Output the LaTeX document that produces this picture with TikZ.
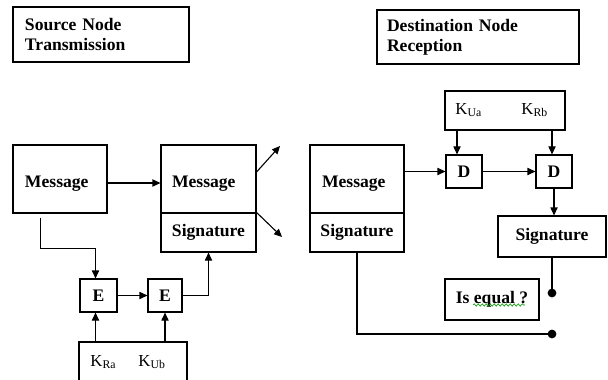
\documentclass[tikz,border=0pt]{standalone}
\usepackage{fontspec}
\setmainfont{Liberation Serif}
\usetikzlibrary{arrows.meta,calc,decorations.pathmorphing}
\begin{document}
\begin{tikzpicture}[x=0.5pt,y=-0.5pt,
  every node/.style={font=\fontsize{8.8}{10}\selectfont\bfseries, inner sep=0pt},
  box/.style={draw, line width=0.55pt, rectangle},
  leftbox/.style={box, align=left, inner xsep=#1},
  msgbox/.style={leftbox=#1, minimum height=34pt, text height=8.4pt, text depth=0pt},
  keytext/.style={font=\fontsize{8.4}{10}\selectfont, anchor=west},
  conn/.style={line width=0.55pt},
  arr/.style={conn, -{Triangle[length=4pt,width=3.6pt]}},
  dotend/.style={circle, fill, minimum size=4.4pt}
]
\useasboundingbox (0,0) rectangle (608,379);

% ---- headings
\node[leftbox=6pt, minimum width=88pt, minimum height=27.5pt, text width=76pt] (hsrc) at (101,34.5)
  {Source Node\\Transmission};
\node[leftbox=5pt, minimum width=101pt, minimum height=27pt, text width=91pt] (hdst) at (478,37)
  {Destination Node\\Reception};

% ---- source side
\node[msgbox=6pt, minimum width=47pt, text width=35pt] (msgL) at (60,179) {Message};
\node[msgbox=5.5pt, minimum width=47.5pt, text width=36.5pt] (msgM) at (208.5,179) {Message};
\node[box, minimum width=47.5pt, minimum height=19.5pt] (sigM) at (208.5,232.5) {Signature};
\node[box, minimum width=18.5pt, minimum height=16.5pt] (e1) at (98.5,295.5) {E};
\node[box, minimum width=17pt, minimum height=16.5pt] (e2) at (165,295.5) {E};
\node[box, minimum width=54pt, minimum height=24pt] (kL) at (133,366) {};
\node[keytext] (kRa) at (90,362) {K\textsubscript{Ra}};
\node[keytext] (kUb) at (138,362) {K\textsubscript{Ub}};

\coordinate (outUp) at (280,146);
\coordinate (outDn) at (282,237);

\draw[arr] ([yshift=-2pt]msgL.east) -- ([yshift=-2pt]msgM.west);
\draw[arr] ([yshift=3.5pt]msgM.east) -- (outUp);
\draw[arr] (sigM.north east) -- (outDn);
\draw[arr] ($(msgL.south west)+(28,4)$) -- ++(0,31) -| ([xshift=-1.5pt]e1.north);
\draw[arr] (e1.east) -- (e2.west);
\draw[arr] (e2.east) -| (sigM.south);
\draw[arr] ([xshift=-1.5pt]e1.south |- kL.north) -- ([xshift=-1.5pt]e1.south);
\draw[arr] (e2.south |- kL.north) -- (e2.south);

% ---- destination side
\node[msgbox=6pt, minimum width=47pt, text width=35pt] (msgR) at (357,179) {Message};
\node[box, minimum width=47pt, minimum height=19.5pt] (sigR) at (357,232.5) {Signature};
\node[box, minimum width=60pt, minimum height=19.5pt] (kR) at (505,110.5) {};
\node[keytext] (kUa) at (455,110) {K\textsubscript{Ua}};
\node[keytext] (kRb) at (521,110) {K\textsubscript{Rb}};
\node[box, minimum width=18pt, minimum height=16.5pt] (d1) at (464,171.5) {D};
\node[box, minimum width=18pt, minimum height=16.5pt] (d2) at (554,171.5) {D};
\node[box, minimum width=54pt, minimum height=20.5pt] (sigD) at (552,236.5) {Signature};
\node[box, minimum width=47pt, minimum height=20.5pt] (eq) at (492,299.5) {Is equal ?};

\coordinate (dot1) at (552,293);
\coordinate (dot2) at (552,334);

\draw[arr] ([xshift=-3.5pt]d1.north |- kR.south) -- ([xshift=-3.5pt]d1.north);
\draw[arr] ([xshift=-1pt]d2.north |- kR.south) -- ([xshift=-1pt]d2.north);
\draw[arr] (msgR.east |- d1.west) -- (d1.west);
\draw[arr] (d1.east) -- (d2.west);
\draw[arr] (d2.south) -- (d2.south |- sigD.north);
\draw[conn] (sigD.south) -- (dot1);
\draw[conn] (sigR.south) |- (dot2);
\node[dotend] (end1) at (dot1) {};
\node[dotend] (end2) at (dot2) {};

% spell-check mark under "equal"
\draw[green!60!black, line width=0.3pt,
  decorate, decoration={snake, amplitude=0.6pt, segment length=2pt}]
  (473,305) -- (525,305);
\end{tikzpicture}
\end{document}
